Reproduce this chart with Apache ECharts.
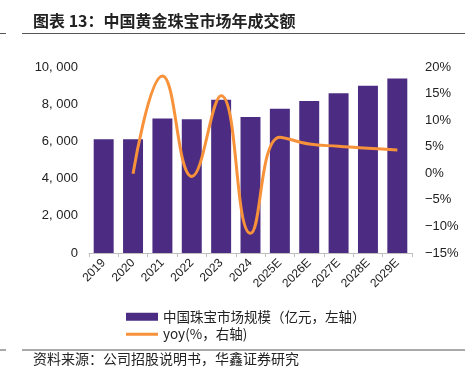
<!DOCTYPE html>
<html><head><meta charset="utf-8">
<script src="https://cdn.jsdelivr.net/npm/echarts@6/dist/echarts.min.js"></script>
<style>html,body{margin:0;padding:0;background:#fff}#c{width:468px;height:380px}</style>
</head><body><div id="c"></div>
<script>
const categories = ['2019','2020','2021','2022','2023','2024','2025E','2026E','2027E','2028E','2029E'];
const marketSize = [6118, 6112, 7232, 7190, 8241, 7306, 7760, 8170, 8590, 8990, 9380];
const yoy = [null, -0.1, 18.3, -0.6, 14.6, -11.3, 6.8, 5.5, 5.1, 4.7, 4.4];
const leftTicks = [0, 10000, 2000];
const rightTicks = [-15, 20, 5];
const titleText = '图表 13：中国黄金珠宝市场年成交额';
const sourceText = '资料来源：公司招股说明书，华鑫证券研究';
const barName = '中国珠宝市场规模（亿元，左轴）';
const lineName = 'yoy(%，右轴)';

const CJK = '"Noto Sans CJK SC", sans-serif';
const LAT = '"Liberation Sans", Arial, sans-serif';
const chart = echarts.init(document.getElementById('c'), null, {renderer: 'canvas'});
chart.setOption({
  animation: false,
  backgroundColor: '#fff',
  grid: {left: 89, right: 56, top: 67, bottom: 127, containLabel: false},
  graphic: [
    {type: 'text', left: 33, top: 13, style: {text: titleText, font: 'bold 16px ' + CJK, fill: '#222'}},
    {type: 'line', shape: {x1: 22, y1: 33.5, x2: 465, y2: 33.5}, style: {stroke: '#555', lineWidth: 1}},
    {type: 'line', shape: {x1: 0, y1: 33.5, x2: 6, y2: 33.5}, style: {stroke: '#555', lineWidth: 1}},
    {type: 'line', shape: {x1: 22, y1: 350, x2: 465, y2: 350}, style: {stroke: '#555', lineWidth: 1}},
    {type: 'line', shape: {x1: 0, y1: 350, x2: 6, y2: 350}, style: {stroke: '#555', lineWidth: 1}},
    {type: 'text', left: 33, top: 352, style: {text: sourceText, font: '14px ' + CJK, fill: '#222'}}
  ],
  legend: {
    orient: 'vertical', left: 121, top: 305, itemGap: 4,
    itemWidth: 32, itemHeight: 8,
    textStyle: {fontFamily: CJK, fontSize: 13.5, color: '#222'},
    data: [
      {name: barName, icon: 'rect'},
      {name: lineName, icon: 'path://M0,0L32,0L32,3L0,3Z', itemStyle: {color: '#F7923A'}}
    ]
  },
  xAxis: {
    type: 'category', data: categories,
    axisLine: {lineStyle: {color: '#bfbfbf'}},
    axisTick: {show: true, length: 4, lineStyle: {color: '#bfbfbf'}},
    axisLabel: {rotate: 45, fontFamily: LAT, fontSize: 12, color: '#222', margin: 8, interval: 0}
  },
  yAxis: [
    {type: 'value', min: leftTicks[0], max: leftTicks[1], interval: leftTicks[2],
     splitLine: {show: false}, axisLine: {show: false}, axisTick: {show: false},
     axisLabel: {fontFamily: LAT, fontSize: 13, color: '#222', margin: 11,
       formatter: v => v >= 1000 ? Math.floor(v/1000) + ', ' + String(v%1000).padStart(3,'0') : String(v)}},
    {type: 'value', min: rightTicks[0], max: rightTicks[1], interval: rightTicks[2],
     splitLine: {show: false}, axisLine: {show: false}, axisTick: {show: false},
     axisLabel: {fontFamily: LAT, fontSize: 13, color: '#222', margin: 13,
       formatter: v => (v < 0 ? '\u2212' + (-v) : v) + '%'}}
  ],
  series: [
    {name: barName, type: 'bar', data: marketSize, barCategoryGap: '32%',
     itemStyle: {color: '#4B2C82'}},
    {name: lineName, type: 'line', yAxisIndex: 1, data: yoy, smooth: 0.45,
     symbol: 'none', connectNulls: false,
     lineStyle: {color: '#F7923A', width: 3}, itemStyle: {color: '#F7923A'}}
  ]
});
</script></body></html>
